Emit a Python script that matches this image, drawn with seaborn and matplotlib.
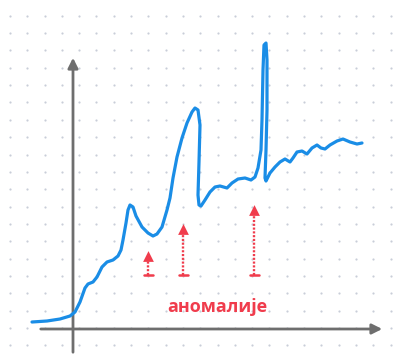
import numpy as np
import pandas as pd
import matplotlib
matplotlib.use("Agg")
import matplotlib.pyplot as plt
import seaborn as sns

# curve (x right of origin, y above origin)
curve_x = [-41, -26, -13, -3, 2, 7, 12, 15, 20, 24, 29, 34, 40, 45, 48, 50, 53, 55, 57,
           60, 63, 69, 75, 80, 84, 89, 94, 97, 100, 104, 109, 114, 119, 122, 125, 127,
           126, 125, 126, 128, 132, 137, 142, 147, 154, 159, 165, 172, 178, 182, 185,
           188, 189, 190, 191, 193, 194, 194, 193, 192, 193, 197, 202, 207, 212, 217,
           220, 224, 229, 234, 239, 244, 248, 252, 257, 264, 270, 277, 284, 289]
curve_y = [7, 8, 10, 13, 17, 27, 41, 45, 47, 52, 62, 67, 69, 73, 79, 89, 106, 119, 124,
           122, 113, 102, 96, 93, 95, 102, 119, 131, 151, 172, 191, 206, 217, 221, 219,
           204, 167, 134, 124, 123, 129, 137, 142, 143, 141, 146, 150, 151, 149, 152,
           161, 179, 209, 259, 284, 286, 269, 219, 179, 151, 148, 156, 162, 167, 170,
           167, 171, 177, 178, 175, 181, 184, 181, 180, 184, 188, 190, 187, 185, 186]

# anomaly markers
anomaly_x = [75, 110, 181]
anomaly_top = [77, 104, 123]
anomaly_base = 54
label = "аномалије"

blue = "#1a8de6"
red = "#f03c4c"
gray = "#6e6e6e"

sns.set_style("white")
fig = plt.figure(figsize=(4.04, 3.62), dpi=100)
ax = fig.add_axes([0, 0, 1, 1])
ax.set_xlim(-73, 404 - 73)
ax.set_ylim(329 - 362, 329)

# dotted background
gx = np.arange(-63, 331, 17.3)
gy = np.arange(329 - 15.7, -34, -17.35)
GX, GY = np.meshgrid(gx, gy)
ax.scatter(GX.ravel(), GY.ravel(), s=2.5, color="#c9cdd8", linewidths=0, zorder=0)

# axes with arrow heads
ax.annotate("", xy=(0, 274), xytext=(0, -26),
            arrowprops=dict(arrowstyle="-|>,head_length=0.6,head_width=0.3", color=gray, lw=2))
ax.annotate("", xy=(312, 0), xytext=(-35, 0),
            arrowprops=dict(arrowstyle="-|>,head_length=0.6,head_width=0.3", color=gray, lw=2))

df = pd.DataFrame({"x": curve_x, "y": curve_y})
sns.lineplot(data=df, x="x", y="y", sort=False, estimator=None, color=blue, lw=2.3,
             ax=ax, solid_joinstyle="round", solid_capstyle="round", zorder=3)
ax.axis("off")

for x, top in zip(anomaly_x, anomaly_top):
    ax.plot([x, x], [anomaly_base, top - 6], color=red, lw=1.7, ls=(0, (0.9, 0.7)), zorder=4)
    ax.plot([x - 4.5, x + 4.5], [anomaly_base, anomaly_base], color=red, lw=1.8,
            solid_capstyle="round", zorder=4)
    ax.scatter([x], [top - 3.5], marker="^", s=60, color=red, linewidths=0, zorder=4)

ax.text(144, 22, label, color=red, fontsize=13, fontweight="bold",
        family=["Open Sans", "DejaVu Sans"], ha="center", va="center")

fig.savefig("out.png", dpi=100)
